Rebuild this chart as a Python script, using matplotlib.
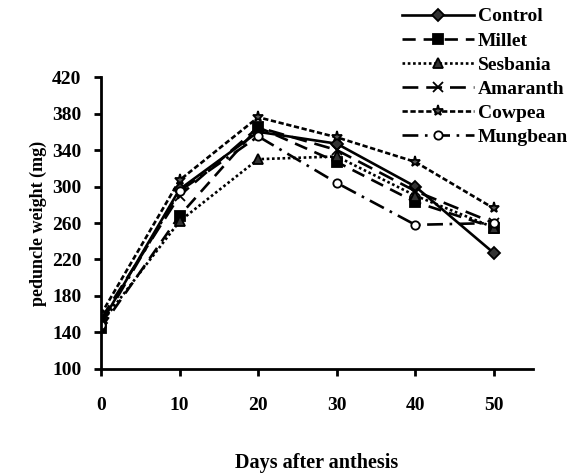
import matplotlib.pyplot as plt
from matplotlib.lines import Line2D

plt.rcParams["font.family"] = ["Liberation Serif", "DejaVu Serif"]
plt.rcParams["font.weight"] = "bold"

days = [0, 10, 20, 30, 40, 50]
control = [150, 297, 360, 347, 300, 227]
millet = [145, 268, 365, 327, 283, 255]
sesbania = [150, 262, 330, 333, 290, 255]
amaranth = [155, 290, 365, 340, 295, 260]
cowpea = [160, 307, 376, 354, 327, 276]
mungbean = [148, 295, 355, 304, 258, 260]

series = [
    ("Control", control, dict(marker="D", ms=6, mfc="#333333", dashes=None)),
    ("Millet", millet, dict(marker="s", ms=6.5, mfc="black", dashes=(5, 3))),
    ("Sesbania", sesbania, dict(marker="^", ms=6.5, mfc="#333333", dashes=(1, 1))),
    ("Amaranth", amaranth, dict(marker="x", ms=6.5, mfc="black", dashes=(6, 3))),
    ("Cowpea", cowpea, dict(marker="*", ms=8, mfc="#555555", dashes=(2, 1))),
    ("Mungbean", mungbean, dict(marker="o", ms=6, mfc="white", dashes=(6, 2.5, 1, 2.5))),
]

fig = plt.figure(figsize=(5.84, 4.73), dpi=100)
ax = fig.add_axes([0.173, 0.220, 0.740, 0.617])

handles = []
for name, vals, st in series:
    kw = dict(color="black", lw=1.9, marker=st["marker"], ms=st["ms"],
              mfc=st["mfc"], mec="black", mew=1.3)
    if st["dashes"] is not None:
        kw["dashes"] = st["dashes"]
    (ln,) = ax.plot(days, vals, label=name, **kw)
    handles.append(ln)

ax.set_xlim(0, 55)
ax.set_ylim(100, 420)
ax.set_xticks(days)
ax.set_yticks(range(100, 421, 40))
for s in ("top", "right"):
    ax.spines[s].set_visible(False)
for s in ("left", "bottom"):
    ax.spines[s].set_linewidth(2)
ax.tick_params(width=2, length=5, labelsize=14, pad=9)
ax.tick_params(axis="x", pad=15)
ax.set_xlabel("Days after anthesis", fontsize=14.5, fontweight="bold", labelpad=28)
ax.set_ylabel("peduncle weight (mg)", fontsize=13, fontweight="bold", labelpad=4)

fig.legend(handles=handles, loc="upper left", bbox_to_anchor=(0.668, 1.008),
           frameon=False, fontsize=14, handlelength=3.7, handletextpad=0.2,
           labelspacing=0.33, borderaxespad=0.2)

fig.savefig("out.png", dpi=100, facecolor="white")
